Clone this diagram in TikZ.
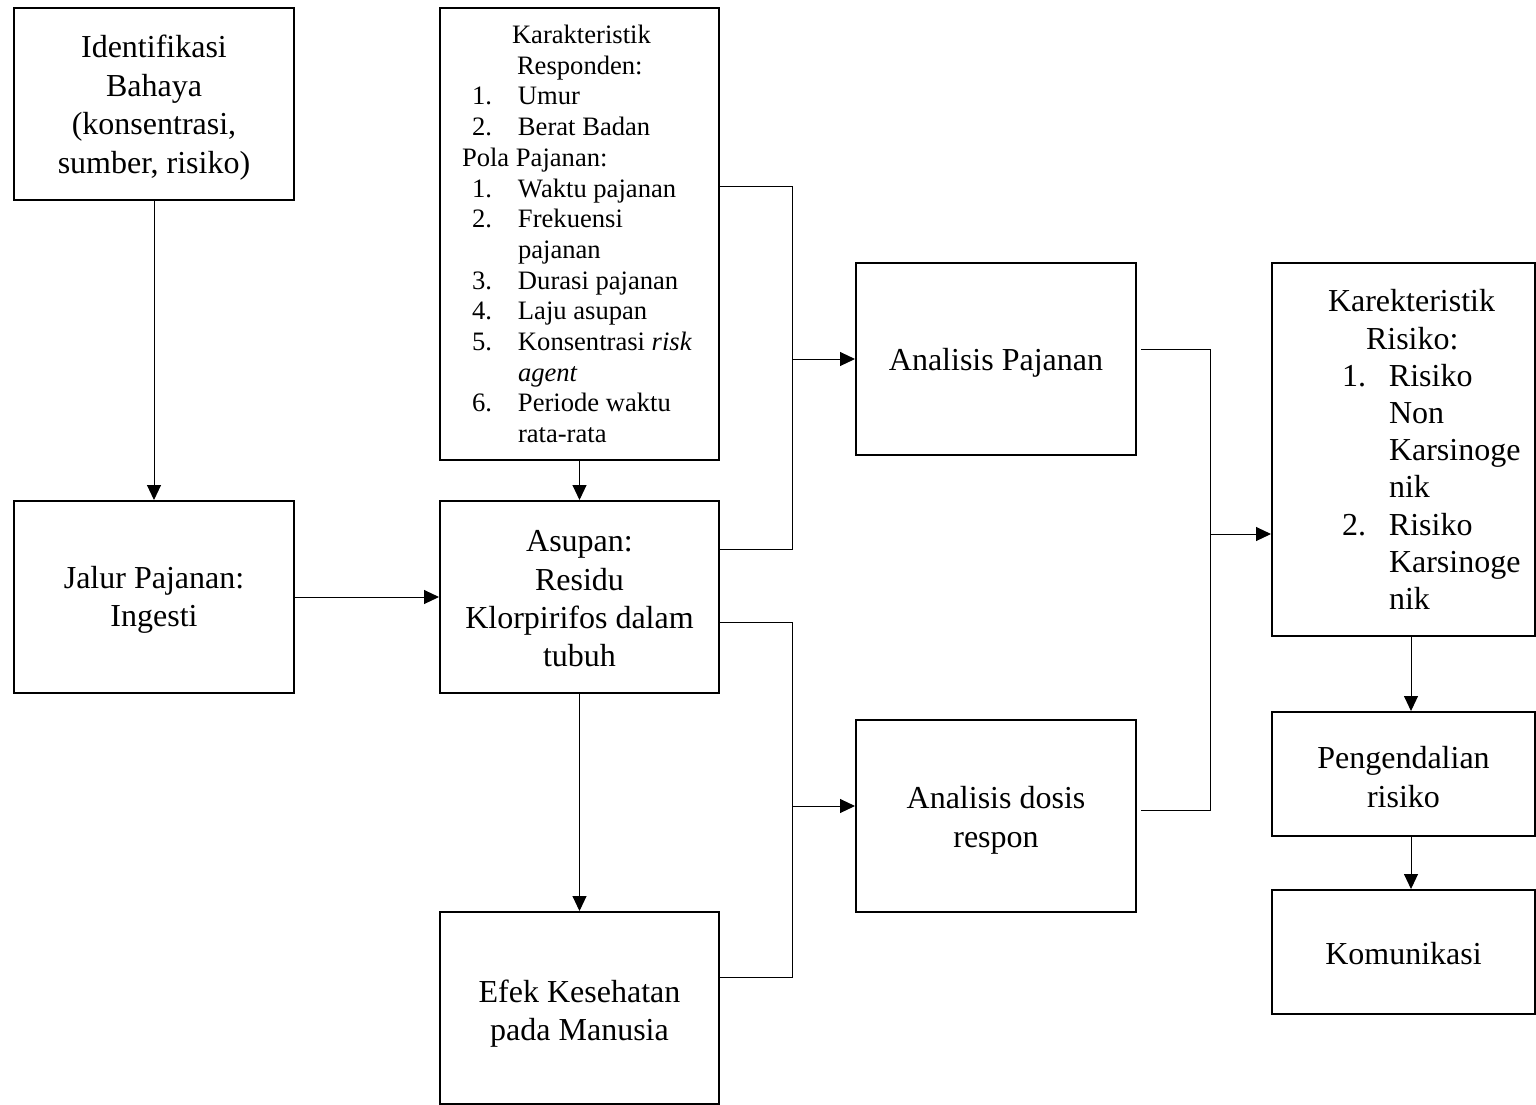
\documentclass[tikz,border=0pt]{standalone}
\usepackage{fontspec}
\setmainfont{Liberation Serif}
\usetikzlibrary{arrows.meta}
\newcommand{\tstrut}[1]{\rule{0pt}{#1}}
\begin{document}
\begin{tikzpicture}[x=0.5pt,y=-0.5pt,
  box/.style={draw,line width=1pt,inner sep=0pt,align=center,font=\fontsize{16pt}{19.2pt}\selectfont},
  bigbox/.style={box,minimum width=140pt,minimum height=96pt},
  rbox/.style={box,minimum width=131.5pt},
  conn/.style={line width=0.5pt},
  arr/.style={conn,-{Triangle[length=7.5pt,width=7pt]}}]
\useasboundingbox (0,0) rectangle (1536,1104);
% boxes
\node[bigbox] (iden) at (154,104) {\tstrut{15pt}Identifikasi\\Bahaya\\(konsentrasi,\\sumber, risiko)};
\node[bigbox] (jalur) at (154,597) {\tstrut{14pt}Jalur Pajanan:\\Ingesti};
\node[box,minimum height=226pt,text width=139.5pt,align=flush left,
      font=\fontsize{13.3pt}{15.35pt}\selectfont] (kar) at (579.5,234) {%
\hspace*{36pt}Karakteristik\\
\hspace*{38.5pt}Responden:\\
\hspace*{16pt}\makebox[23pt][l]{1.}Umur\\
\hspace*{16pt}\makebox[23pt][l]{2.}Berat Badan\\
\hspace*{11pt}Pola Pajanan:\\
\hspace*{16pt}\makebox[23pt][l]{1.}Waktu pajanan\\
\hspace*{16pt}\makebox[23pt][l]{2.}Frekuensi\\
\hspace*{39pt}pajanan\\
\hspace*{16pt}\makebox[23pt][l]{3.}Durasi pajanan\\
\hspace*{16pt}\makebox[23pt][l]{4.}Laju asupan\\
\hspace*{16pt}\makebox[23pt][l]{5.}Konsentrasi \textit{risk}\\
\hspace*{39pt}\textit{agent}\\
\hspace*{16pt}\makebox[23pt][l]{6.}Periode waktu\\
\hspace*{39pt}rata-rata};
\node[box,minimum width=139.5pt,minimum height=96pt] (asup) at (579.5,597) {\tstrut{12.5pt}Asupan:\\Residu\\Klorpirifos dalam\\tubuh};
\node[box,minimum width=139.5pt,minimum height=96pt] (efek) at (579.5,1008) {\tstrut{17pt}Efek Kesehatan\\pada Manusia};
\node[bigbox] (ap) at (996,359) {\tstrut{15pt}Analisis Pajanan};
\node[bigbox] (ad) at (996,816) {\tstrut{15.5pt}Analisis dosis\\respon};
\node[box,minimum height=186.5pt,text width=131.5pt,align=flush left,
      font=\fontsize{16pt}{18.6pt}\selectfont] (kr) at (1403.5,449.5) {%
\hspace*{28pt}Karekteristik\\
\hspace*{47pt}Risiko:\\
\hspace*{35pt}\makebox[23.5pt][l]{1.}Risiko\\
\hspace*{58.5pt}Non\\
\hspace*{58.5pt}Karsinoge\\
\hspace*{58.5pt}nik\\
\hspace*{35pt}\makebox[23.5pt][l]{2.}Risiko\\
\hspace*{58.5pt}Karsinoge\\
\hspace*{58.5pt}nik};
\node[rbox,minimum height=62pt] (peng) at (1403.5,774) {\tstrut{14pt}Pengendalian\\risiko};
\node[rbox,minimum height=62pt] (kom) at (1403.5,952) {\tstrut{13pt}Komunikasi};
% bus coordinates
\coordinate (bA) at (792,186);
\coordinate (bB) at (792,549);
\coordinate (bC) at (792,622);
\coordinate (bD) at (792,977);
\coordinate (bE) at (792,806);
\coordinate (bF) at (1210,349);
\coordinate (bG) at (1210,810);
\coordinate (bH) at (1210,534);
\coordinate (rx) at (1411,0);
% connectors
\draw[arr] (iden.south) -- (jalur.north);
\draw[arr] (jalur.east) -- (asup.west);
\draw[arr] (kar.south) -- (asup.north);
\draw[arr] (asup.south) -- (efek.north);
\draw[conn] (kar.east |- bA) -- (bA) -- (bB) -- (asup.east |- bB);
\draw[arr] (bA |- ap.west) -- (ap.west);
\draw[conn] (asup.east |- bC) -- (bC) -- (bD) -- (efek.east |- bD);
\draw[arr] (bE) -- (ad.west |- bE);
\draw[conn] ([xshift=2pt]ap.east |- bF) -- (bF) -- (bG) -- ([xshift=2pt]ad.east |- bG);
\draw[arr] (bH) -- (kr.west |- bH);
\draw[arr] (rx |- kr.south) -- (rx |- peng.north);
\draw[arr] (rx |- peng.south) -- (rx |- kom.north);
\end{tikzpicture}
\end{document}
